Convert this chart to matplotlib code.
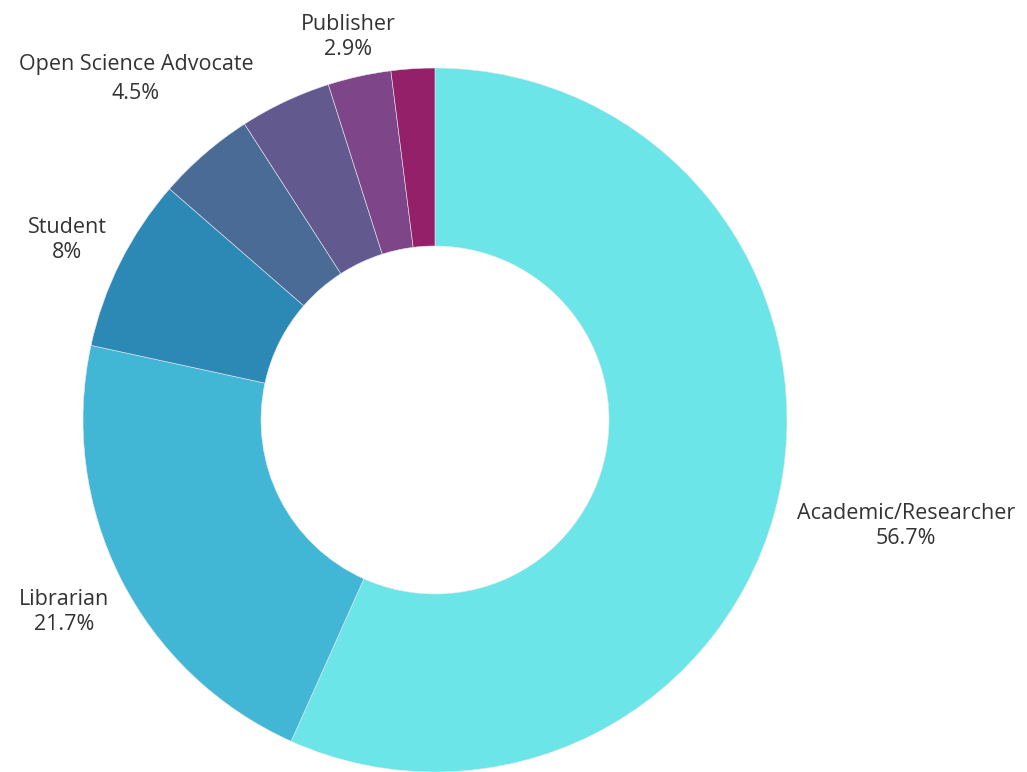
import matplotlib.pyplot as plt

# slices clockwise from 12 o'clock
categories = ["Academic/Researcher", "Librarian", "Student", "Open Science Advocate",
              "", "Publisher", ""]
shares = [56.7, 21.7, 8, 4.5, 4.2, 2.9, 2.0]
colors = ["#6be5e8", "#42b7d5", "#2c89b6", "#4a6b96", "#625a8f", "#7f4589", "#932068"]

# label anchor (pixel x, pixel y from top) for the labels that are shown
label_pos = {
    "Academic/Researcher": (906, 526),
    "Librarian": (64, 612),
    "Student": (67, 240),
    "Open Science Advocate": (136, 79),
    "Publisher": (348, 37),
}

W, H = 1027, 772
fig = plt.figure(figsize=(W / 100, H / 100), dpi=100)
ax = fig.add_axes([0, 0, 1, 1])
ax.set_xlim(0, W)
ax.set_ylim(0, H)
ax.set_aspect("equal")
ax.axis("off")

cx, cy = 435, H - 420
r_out, r_in = 352, 174
ax.pie(shares, colors=colors, center=(cx, cy), radius=r_out, startangle=90,
       counterclock=False,
       wedgeprops=dict(width=r_out - r_in, edgecolor="#e8e8f0", linewidth=0.4))

for name, val in zip(categories, shares):
    if name not in label_pos:
        continue
    x, y = label_pos[name]
    txt = f"{val:g}%"
    ls = 1.45 if name == "Open Science Advocate" else 1.25
    ax.text(x, H - y, f"{name}\n{txt}", ha="center", va="center",
            fontsize=15.5, family="Open Sans", color="#333333", linespacing=ls)

ax.set_xlim(0, W)
ax.set_ylim(0, H)
fig.savefig("out.png", dpi=100)
